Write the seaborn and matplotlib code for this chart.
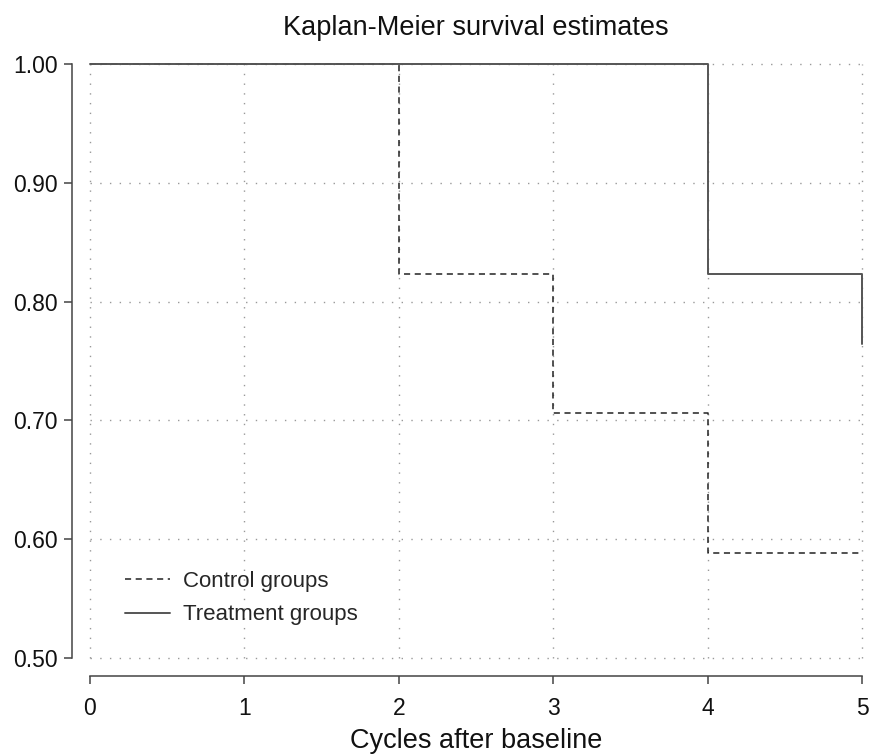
import matplotlib
matplotlib.use("Agg")
import matplotlib.pyplot as plt
import seaborn as sns
from matplotlib.lines import Line2D

# Kaplan-Meier step points
control_time = [0, 2, 3, 4, 5]
control_surv = [1.0, 0.8235, 0.7059, 0.5882, 0.5882]
treat_time = [0, 4, 5, 5]
treat_surv = [1.0, 0.8235, 0.8235, 0.7647]

x_ticks = [0, 1, 2, 3, 4, 5]
y_ticks = [0.50, 0.60, 0.70, 0.80, 0.90, 1.00]
y_labels = ["0.50", "0.60", "0.70", "0.80", "0.90", "1.00"]

sns.set_style("white")
plt.rcParams["font.family"] = ["Liberation Sans", "DejaVu Sans"]

fig = plt.figure(figsize=(8.73, 7.54), dpi=100)
ax = fig.add_axes([90 / 873, 96 / 754, 772 / 873, 594 / 754])

sns.lineplot(x=control_time, y=control_surv, drawstyle="steps-post",
             estimator=None, sort=False, color="#222222", linewidth=1.1,
             linestyle=(0, (4, 3)), ax=ax, clip_on=False, zorder=3)
sns.lineplot(x=treat_time, y=treat_surv, drawstyle="steps-post",
             estimator=None, sort=False, color="#555555", linewidth=1.4,
             ax=ax, clip_on=False, zorder=4)

ax.set_xlim(0, 5)
ax.set_ylim(0.5, 1.0)
ax.set_xticks(x_ticks)
ax.set_yticks(y_ticks)
ax.set_yticklabels(y_labels)

for v in x_ticks:
    ax.axvline(v, color="#999999", linestyle=(0, (1, 6)), linewidth=1.0,
               clip_on=False, zorder=1)
for v in y_ticks:
    ax.axhline(v, color="#999999", linestyle=(0, (1, 6)), linewidth=1.0,
               clip_on=False, zorder=1)

for s in ["top", "right"]:
    ax.spines[s].set_visible(False)
for s in ["left", "bottom"]:
    ax.spines[s].set_position(("outward", 13))
    ax.spines[s].set_color("#444444")
    ax.spines[s].set_linewidth(1.1)

ax.tick_params(axis="both", length=6, width=1.1, color="#444444",
               labelsize=16.5, labelcolor="#111111", direction="out")
ax.tick_params(axis="x", pad=9)
ax.tick_params(axis="y", pad=4)
ax.tick_params(left=True, bottom=True)

ax.set_title("Kaplan-Meier survival estimates", fontsize=19.5, pad=21,
             color="#111111")
ax.set_xlabel("Cycles after baseline", fontsize=19.5, labelpad=6,
              color="#111111")
ax.set_ylabel("")

handles = [
    Line2D([], [], color="#222222", linewidth=1.1, linestyle=(0, (4, 3))),
    Line2D([], [], color="#555555", linewidth=1.4),
]
ax.legend(handles, ["Control groups", "Treatment groups"], frameon=False,
          fontsize=16, loc="upper left", bbox_to_anchor=(0.02, 0.18),
          handlelength=2.0, handletextpad=0.6, labelspacing=0.55)

fig.savefig("out.png", dpi=100)
